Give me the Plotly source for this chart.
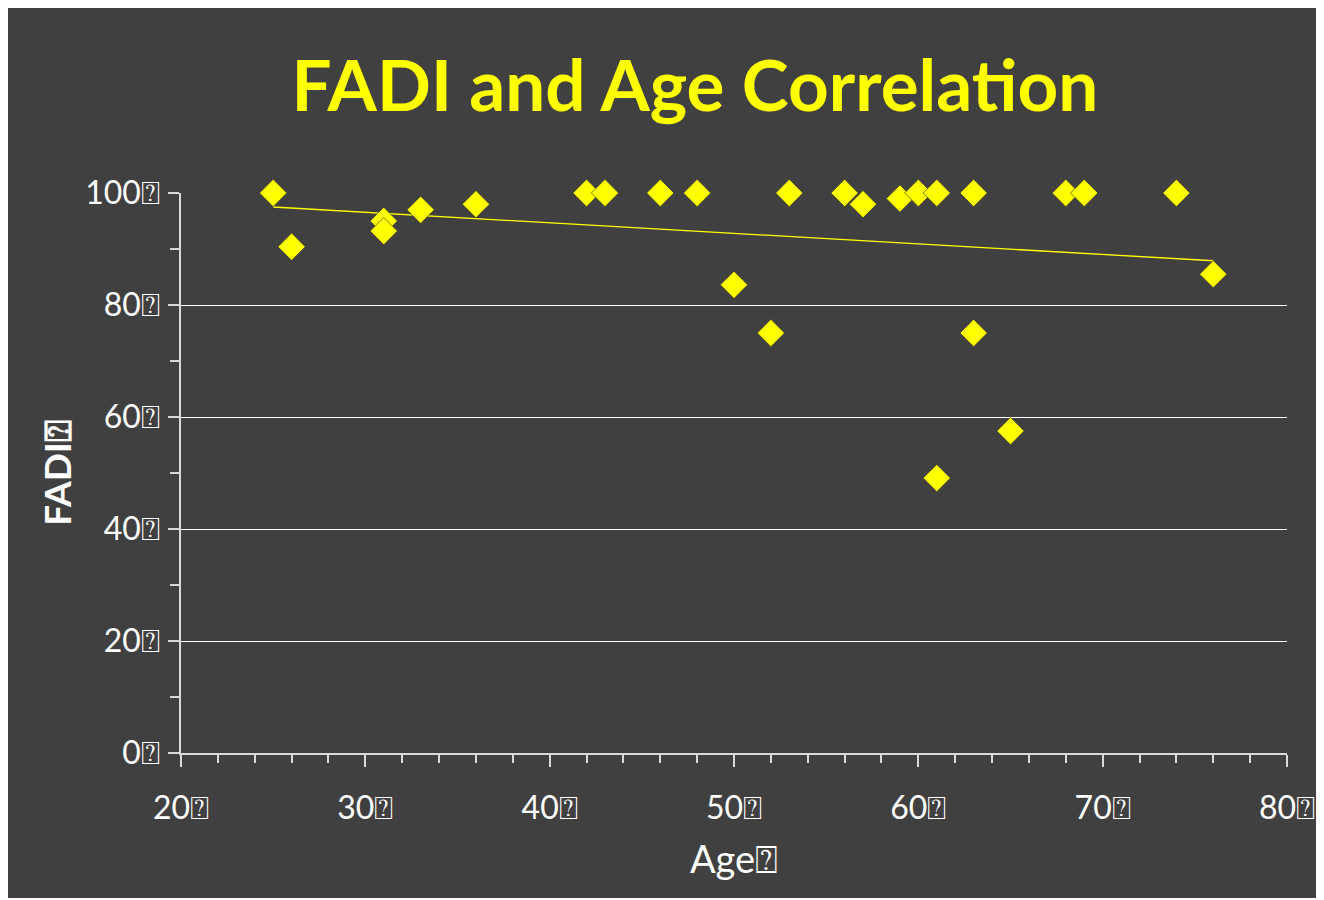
import plotly.graph_objects as go

age = [25, 26, 31, 31, 33, 36, 42, 43, 46, 48, 50, 52, 53, 56, 57, 59, 60, 61, 61, 63, 63, 65, 68, 69, 74, 76]
fadi = [100, 90.4, 95.0, 93.2, 97, 98, 100, 100, 100, 100, 83.6, 75, 100, 100, 98, 99, 100, 100, 49.1, 100, 75, 57.5, 100, 100, 100, 85.5]

trend_x = [25, 76]
trend_y = [97.5, 87.9]

x_ticks = [20, 30, 40, 50, 60, 70, 80]
y_ticks = [0, 20, 40, 60, 80, 100]
Q = "\u2370"

FONT = "Lato, 'DejaVu Sans', sans-serif"
BG = "#404040"

fig = go.Figure()
fig.add_trace(go.Scatter(x=trend_x, y=trend_y, mode="lines", cliponaxis=False,
                         line=dict(color="#ffff00", width=1.3), hoverinfo="skip"))
fig.add_trace(go.Scatter(x=age, y=fadi, mode="markers", cliponaxis=False,
                         marker=dict(symbol="diamond", size=21, color="#ffff00",
                                     line=dict(color="rgba(40,40,40,0.6)", width=1))))

fig.update_layout(
    width=1310, height=890,
    margin=dict(l=173, r=31, t=185, b=145),
    paper_bgcolor=BG, plot_bgcolor=BG,
    showlegend=False,
    font=dict(family=FONT, color="white", size=32),
    title=dict(text="<b>FADI and Age Correlation</b>", x=0.5244, xanchor="center",
               y=0.912, yanchor="middle", yref="container",
               font=dict(family=FONT, size=71, color="#ffff00")),
)
fig.update_xaxes(
    range=[20, 80], tickmode="array", tickvals=x_ticks,
    ticktext=[f"{v}{Q}" for v in x_ticks], automargin=False,
    showgrid=False, zeroline=False,
    showline=True, linecolor="#d9d9d9", linewidth=1.5,
    ticks="outside", ticklen=12, tickcolor="#d9d9d9", tickwidth=1.5,
    minor=dict(dtick=2, ticks="outside", ticklen=8, tickcolor="#d9d9d9", tickwidth=1.5, showgrid=False),
    ticklabelstandoff=14,
    title=dict(text=f"Age{Q}", font=dict(size=38, family=FONT, color="white"), standoff=21),
)
fig.update_yaxes(
    range=[0, 100], tickmode="array", tickvals=y_ticks,
    ticktext=[f"{v}{Q}" for v in y_ticks], automargin=False,
    showgrid=True, gridcolor="white", gridwidth=1.3, zeroline=False,
    showline=True, linecolor="#d9d9d9", linewidth=1.5,
    ticks="outside", ticklen=11, tickcolor="#d9d9d9", tickwidth=1.5,
    minor=dict(dtick=10, ticks="outside", ticklen=9, tickcolor="#d9d9d9", tickwidth=1.5, showgrid=False),
    ticklabelstandoff=2,
    title=dict(text=f"<b>FADI{Q}</b>", font=dict(size=37, family=FONT, color="white"), standoff=2),
)

fig.write_html("out.html")
